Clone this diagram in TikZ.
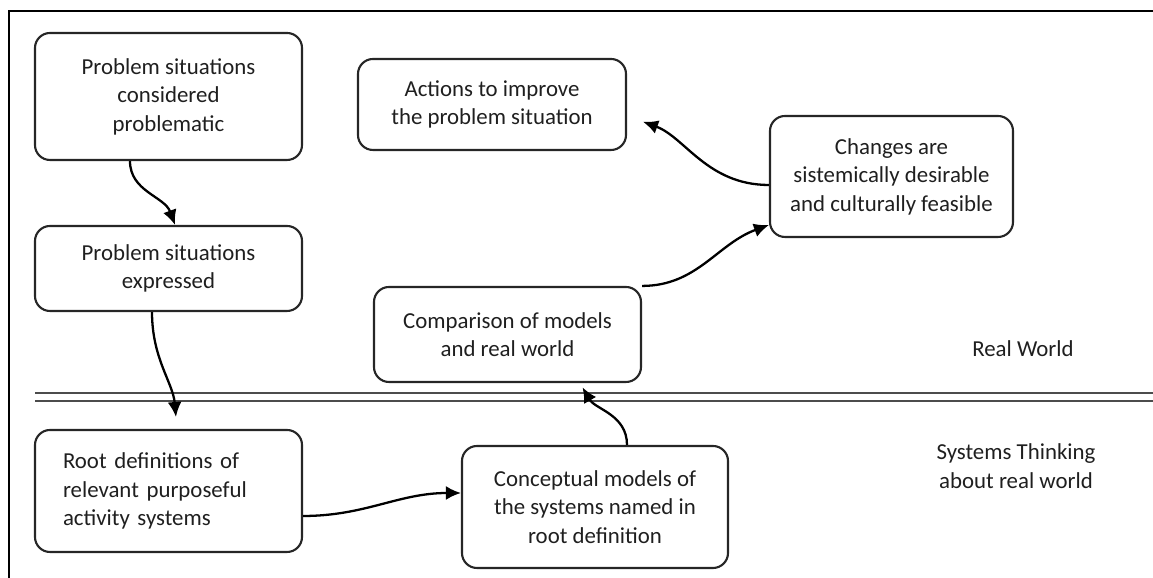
\documentclass[tikz,border=0pt]{standalone}
\usepackage{fontspec}
\setmainfont{Carlito}
\usetikzlibrary{arrows.meta}
\begin{document}
\begin{tikzpicture}[
                every node/.style={font=\fontsize{13}{16.2}\selectfont, text=black!88},
                stage/.style={draw=black!85, line width=1.2pt, rounded corners=0.3cm, align=center, inner sep=0pt},
                flow/.style={draw=black, line width=1.3pt, -{Latex[length=0.3cm, width=0.28cm]}},
                divider/.style={draw=black!70, line width=1.2pt},
            ]
            \useasboundingbox (0,0) rectangle (23.06,11.56);
            \draw[line width=0.8pt] (0.18,0) -- (0.18,11.34) -- (23.06,11.34);
            \node[stage, minimum width=5.34cm, minimum height=2.54cm] (considered) at (3.37,9.63) {Problem situations\\considered\\problematic};
            \node[stage, minimum width=5.34cm, minimum height=1.70cm] (expressed) at (3.37,6.19) {Problem situations\\expressed};
            \node[stage, minimum height=2.44cm, text width=4.22cm, inner xsep=0.56cm, align=left] (rootdef) at (3.37,1.74) {Root definitions of\par relevant purposeful\par activity systems};
            \node[stage, minimum width=5.32cm, minimum height=2.44cm] (models) at (11.9,1.42) {Conceptual models of\\the systems named in\\root definition};
            \node[stage, minimum width=5.34cm, minimum height=1.90cm] (compare) at (10.15,4.87) {Comparison of models\\and real world};
            \node[stage, minimum width=5.36cm, minimum height=1.82cm] (actions) at (9.84,9.47) {Actions to improve\\the problem situation};
            \node[stage, minimum width=4.86cm, minimum height=2.42cm] (changes) at (17.83,8.03) {Changes are\\sistemically desirable\\and culturally feasible};
            \node[align=center] (realworld) at (20.46,4.58) {Real World};
            \node[align=center] (thinking) at (20.32,2.24) {Systems Thinking\\about real world};
            \draw[divider] (0.70,3.70) -- (23.06,3.70);
            \draw[divider] (0.70,3.54) -- (23.06,3.54);
            \draw[flow] ([xshift=-0.77cm]considered.south) to[out=-90, in=110] ([xshift=0.13cm]expressed.north);
            \draw[flow, shorten >=0.24cm] ([xshift=-0.33cm]expressed.south) to[out=-90, in=95] ([xshift=0.17cm]rootdef.north);
            \draw[flow] ([yshift=-0.5cm]rootdef.east) to[out=0, in=180] ([yshift=0.28cm]models.west);
            \draw[flow, shorten >=0.1cm] ([xshift=0.64cm]models.north) to[out=90, in=-60] ([xshift=1.45cm]compare.south);
            \draw[flow] (compare.north east) to[out=0, in=200] ([yshift=-0.97cm]changes.west);
            \draw[flow, shorten >=0.34cm] ([yshift=-0.17cm]changes.west) to[out=180, in=-20] ([yshift=-0.23cm]actions.east);
            \end{tikzpicture}
\end{document}
